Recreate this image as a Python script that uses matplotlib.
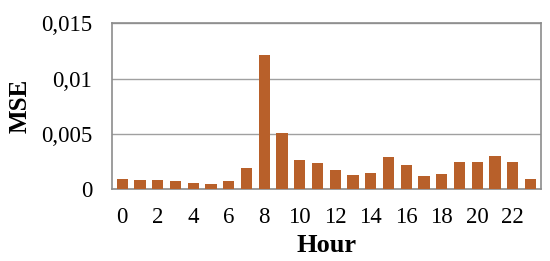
import matplotlib
matplotlib.use("Agg")
import matplotlib.pyplot as plt

hours = list(range(24))
mse = [0.00088, 0.00079, 0.00079, 0.00073, 0.00052, 0.00045, 0.00070, 0.00188,
       0.01210, 0.00506, 0.00267, 0.00233, 0.00176, 0.00127, 0.00142, 0.00291,
       0.00218, 0.00121, 0.00133, 0.00242, 0.00242, 0.00303, 0.00245, 0.00091]
yticks = [0, 0.005, 0.01, 0.015]
ytick_labels = ["0", "0,005", "0,01", "0,015"]
xticks = list(range(0, 24, 2))

plt.rcParams["font.family"] = ["Liberation Serif", "DejaVu Serif"]

fig = plt.figure(figsize=(5.5, 2.61), dpi=100)
ax = fig.add_axes([0.203, 0.276, 0.781, 0.634])

ax.bar(hours, mse, width=0.63, color="#B8602A", zorder=3)

ax.set_xlim(-0.6, 23.6)
ax.set_ylim(0, 0.015)
ax.set_yticks(yticks)
ax.set_yticklabels(ytick_labels)
ax.set_xticks(xticks)
ax.tick_params(axis="both", length=0, labelsize=16.5)
ax.tick_params(axis="x", pad=13)
ax.tick_params(axis="y", pad=14)

ax.grid(axis="y", color="#A0A0A0", linewidth=1.0, zorder=0)
for s in ax.spines.values():
    s.set_color("#8C8C8C")
    s.set_linewidth(1.2)

ax.set_xlabel("Hour", fontsize=19, fontweight="bold", labelpad=4)
ax.set_ylabel("MSE", fontsize=18, fontweight="bold", labelpad=7)

fig.savefig("out.png", dpi=100)
